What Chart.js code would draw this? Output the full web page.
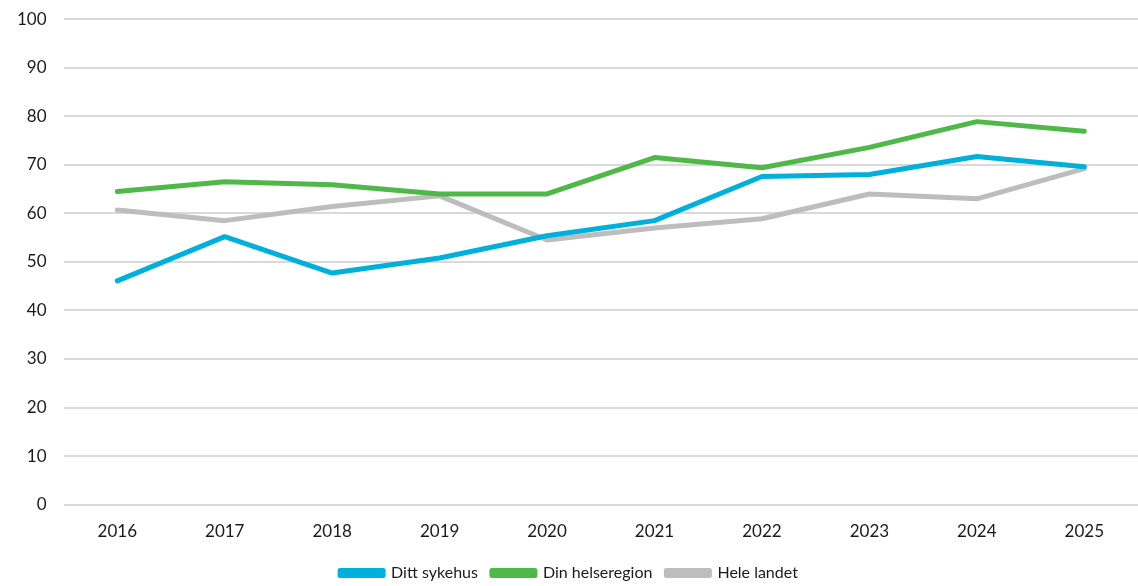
<!DOCTYPE html>
<html>
<head>
<meta charset="utf-8">
<script src="https://cdn.jsdelivr.net/npm/chart.js@4"></script>
<style>
  html, body { margin:0; padding:0; background:#fff; overflow:hidden; }
  #wrap { position:relative; top:-8px; width:1138px; height:594px; }
</style>
</head>
<body>
<div id="wrap"><canvas id="c"></canvas></div>
<script>
// ─── Data ────────────────────────────────────────────────────────────────────
const years        = ['2016','2017','2018','2019','2020','2021','2022','2023','2024','2025'];
const dittSykehus  = [46.1, 55.2, 47.7, 50.8, 55.4, 58.5, 67.6, 68.0, 71.7, 69.6];
const dinRegion    = [64.5, 66.5, 65.9, 64.0, 64.0, 71.5, 69.4, 73.6, 78.9, 76.9];
const heleLandet   = [60.7, 58.5, 61.4, 63.6, 54.5, 57.0, 58.9, 64.0, 63.0, 69.2];
const yTicks       = [0, 10, 20, 30, 40, 50, 60, 70, 80, 90, 100];

const TICK_FONT   = { family:"Lato, 'Open Sans', sans-serif", size:17 };
const LEGEND_FONT = { family:"Lato, 'Open Sans', sans-serif", size:16 };

const line = (label, data, color) => ({
  label, data,
  borderColor: color, backgroundColor: color,
  borderWidth: 5, pointRadius: 0, tension: 0,
  borderCapStyle: 'round', borderJoinStyle: 'round',
});

new Chart(document.getElementById('c'), {
  type: 'line',
  data: {
    labels: years,
    datasets: [
      line('Ditt sykehus',    dittSykehus, '#00b0dc'),
      line('Din helseregion', dinRegion,   '#4fb848'),
      line('Hele landet',     heleLandet,  '#bdbdbf'),
    ]
  },
  options: {
    responsive: true, maintainAspectRatio: false, animation: false,
    layout: { autoPadding: false, padding: { top: 19, right: 0, left: 0, bottom: -5 } },
    plugins: {
      tooltip: { enabled: false },
      legend: {
        position: 'bottom',
        labels: { color:'#1a1a1a', font: LEGEND_FONT, boxWidth: 43, boxHeight: 5, padding: 14 }
      }
    },
    scales: {
      x: {
        offset: true,
        grid: { display: false },
        border: { display: false },
        ticks: { color:'#1a1a1a', font: TICK_FONT, padding: 9, maxRotation: 0 }
      },
      y: {
        min: 0, max: 100,
        afterBuildTicks: ax => { ax.ticks = yTicks.map(v => ({ value: v })); },
        grid: { color:'#d9d9d9', lineWidth: 2, drawTicks: false },
        border: { display: false },
        ticks: { color:'#1a1a1a', font: TICK_FONT, padding: 17 }
      }
    }
  }
});
</script>
</body>
</html>
